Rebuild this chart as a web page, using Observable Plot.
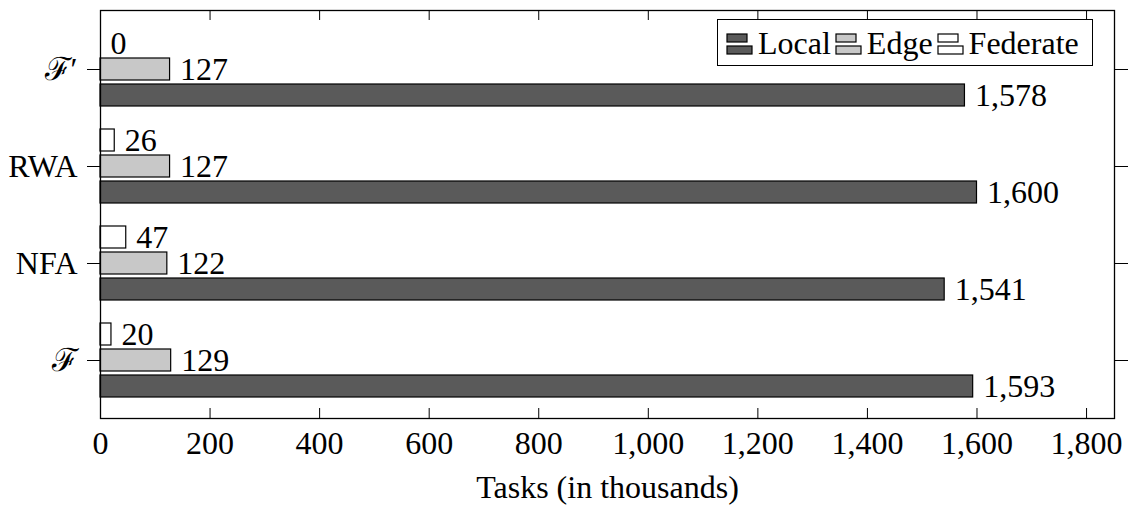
<!DOCTYPE html>
<html><head><meta charset="utf-8">
<script src="https://cdn.jsdelivr.net/npm/d3@7"></script>
<script src="https://cdn.jsdelivr.net/npm/@observablehq/plot@0.6"></script>
<style>
body{margin:0;background:#fff;}
#wrap{position:relative;width:1136px;height:509px;font-family:"Liberation Serif","Times New Roman",serif;}
#legend{position:absolute;left:717px;top:19px;width:376px;height:47px;box-sizing:border-box;border:1.3px solid #000;background:#fff;display:flex;align-items:center;padding-left:8px;font-size:32px;color:#000;line-height:1;white-space:nowrap;}
#legend .item{display:flex;align-items:center;margin-right:4px;}
#legend svg{margin-right:5px;}
</style></head><body><div id="wrap"></div>
<script>
// ---- data ----
const categories = ["ℱ′", "RWA", "NFA", "ℱ"];
const series = ["Local", "Edge", "Federate"];
const localValues = [1578, 1600, 1541, 1593];
const edgeValues = [127, 127, 122, 129];
const federateValues = [0, 26, 47, 20];
const xTicks = [0, 200, 400, 600, 800, 1000, 1200, 1400, 1600, 1800];
const axisLabel = "Tasks (in thousands)";

// ---- styles ----
const fills = {Local: "#5a5a5a", Edge: "#c8c8c8", Federate: "#ffffff"};
const offsets = {Federate: -26, Edge: 0, Local: 26};
const valuesBySeries = {Local: localValues, Edge: edgeValues, Federate: federateValues};

const data = series.flatMap(s => categories.map((c, i) => ({category: c, series: s, value: valuesBySeries[s][i]})));
const fmt = d3.format(",");
const FS = 32;

const marks = [];
for (const s of series) {
  const rows = data.filter(d => d.series === s);
  marks.push(Plot.barX(rows, {x: "value", y: "category", fill: fills[s], stroke: "black", strokeWidth: 1.2, dy: offsets[s]}));
  marks.push(Plot.text(rows, {x: "value", y: "category", text: d => fmt(d.value), dx: 10, dy: offsets[s], textAnchor: "start", fontSize: FS, fill: "black"}));
}
marks.push(Plot.tickX(xTicks, {x: d => d, insetTop: 398, stroke: "black", strokeWidth: 1}));
marks.push(Plot.tickX(xTicks, {x: d => d, insetBottom: 398, stroke: "black", strokeWidth: 1}));
marks.push(Plot.frame({stroke: "black", strokeWidth: 1.3}));
marks.push(Plot.axisX({ticks: xTicks, tickSize: 0, tickPadding: 13, tickFormat: fmt, fontSize: FS, label: null}));
marks.push(Plot.axisY({anchor: "left", tickSize: 13, tickPadding: 10, fontSize: FS, label: null}));
marks.push(Plot.axisY({anchor: "right", tickSize: 13, tickFormat: () => "", label: null}));
marks.push(Plot.text([axisLabel], {text: d => d, frameAnchor: "bottom", dy: 79, fontSize: FS, fill: "black"}));

const chart = Plot.plot({
  width: 1136,
  height: 509,
  marginTop: 10,
  marginBottom: 91,
  marginLeft: 100,
  marginRight: 22,
  style: {fontFamily: '"Liberation Serif","DejaVu Serif",serif', fontSize: "32px", color: "black", background: "white"},
  x: {domain: [0, 1851]},
  y: {domain: categories, paddingInner: 0.776, paddingOuter: 0.476},
  marks
});
const wrap = document.getElementById("wrap");
wrap.appendChild(chart);

// legend (inside plot area, top-right)
const legend = document.createElement("div");
legend.id = "legend";
for (const s of series) {
  const item = document.createElement("div");
  item.className = "item";
  const ns = "http://www.w3.org/2000/svg";
  const sw = document.createElementNS(ns, "svg");
  sw.setAttribute("width", 27); sw.setAttribute("height", 26);
  [[1, 4, 20], [1, 16, 25]].forEach(([x, y, w]) => {
    const r = document.createElementNS(ns, "rect");
    r.setAttribute("x", x); r.setAttribute("y", y); r.setAttribute("width", w); r.setAttribute("height", 8);
    r.setAttribute("fill", fills[s]); r.setAttribute("stroke", "black"); r.setAttribute("stroke-width", 1.2);
    sw.appendChild(r);
  });
  item.appendChild(sw);
  const t = document.createElement("span");
  t.textContent = s;
  item.appendChild(t);
  legend.appendChild(item);
}
wrap.appendChild(legend);
</script>
</body></html>
